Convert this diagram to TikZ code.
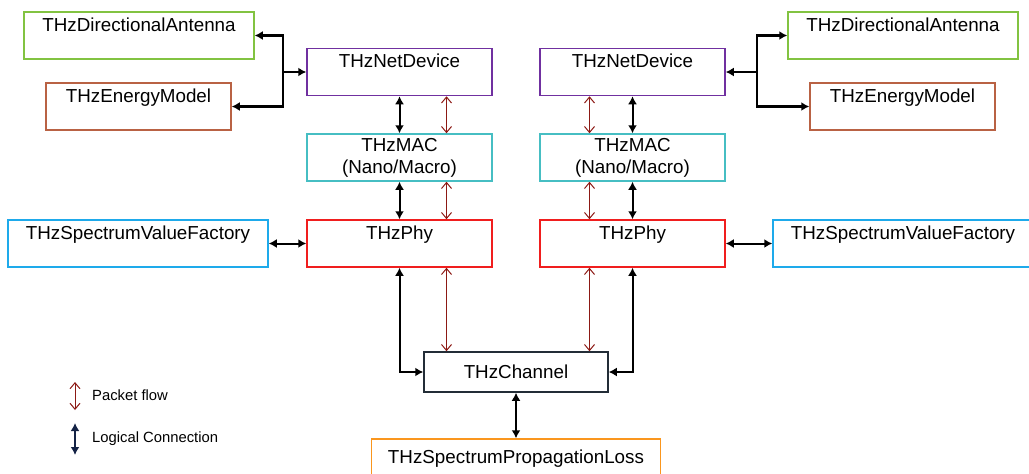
\documentclass[tikz,border=0pt]{standalone}
\usepackage{fontspec}
\setmainfont{Liberation Sans}
\usetikzlibrary{arrows.meta}
\definecolor{antgreen}{RGB}{130,195,65}
\definecolor{engbrown}{RGB}{185,98,68}
\definecolor{netpurple}{RGB}{112,48,160}
\definecolor{macteal}{RGB}{70,190,195}
\definecolor{phyred}{RGB}{240,30,30}
\definecolor{svfblue}{RGB}{30,170,235}
\definecolor{changrey}{RGB}{35,45,55}
\definecolor{lossorange}{RGB}{250,150,30}
\definecolor{pktred}{RGB}{140,25,20}
\definecolor{legnavy}{RGB}{20,35,70}

\begin{document}
\begin{tikzpicture}[x=1pt,y=-1pt]
        %
        % `block' is a box with its text at the top.
        % `twoline' is only used by the MAC boxes.
        % `flat' is used for the channel and the loss model.
        \tikzstyle{block} = [draw,line width=1.5pt,inner sep=0pt,minimum height=47pt,text height=19pt,text depth=28pt,font=\fontsize{18.8}{22}\selectfont]
        \tikzstyle{twoline} = [draw,line width=1.5pt,inner sep=0pt,minimum height=47pt,align=center,font=\fontsize{18.8}{22}\selectfont]
        \tikzstyle{flat} = [draw,line width=1.5pt,inner sep=0pt,minimum height=40pt,font=\fontsize{18.8}{22}\selectfont]
        \tikzstyle{logic} = [line width=2pt,arrows={Latex[length=8pt,width=9pt]-Latex[length=8pt,width=9pt]}]
        \tikzstyle{packet} = [pktred,line width=1pt,arrows={Straight Barb[length=6pt,width=10pt]-Straight Barb[length=6pt,width=10pt]}]
        \tikzstyle{branch} = [line width=2.6pt,arrows={-Latex[length=8pt,width=9pt]}]
        \tikzstyle{legend} = [anchor=west,inner sep=0pt,font=\fontsize{14.8}{17}\selectfont]
        %
        \useasboundingbox (0,0) rectangle (1029,474);
        \clip (0,0) rectangle (1029,474);
        %
        % Left device
        \node[block,draw=antgreen,minimum width=230pt] (ant1) at (139,35.5) {THzDirectionalAntenna};
        \node[block,draw=engbrown,minimum width=185pt] (eng1) at (138.5,106.5) {THzEnergyModel};
        \node[block,draw=netpurple,minimum width=185pt] (net1) at (399.5,72) {THzNetDevice};
        \node[twoline,draw=macteal,minimum width=185pt] (mac1) at (399.5,157.5) {THzMAC\\(Nano/Macro)};
        \node[block,draw=phyred,minimum width=185pt] (phy1) at (399.5,243.5) {THzPhy};
        \node[block,draw=svfblue,minimum width=260pt] (svf1) at (138,243.5) {THzSpectrumValueFactory};
        %
        % Right device
        \node[block,draw=antgreen,minimum width=230pt] (ant2) at (903,35.5) {THzDirectionalAntenna};
        \node[block,draw=engbrown,minimum width=185pt] (eng2) at (902.5,106.5) {THzEnergyModel};
        \node[block,draw=netpurple,minimum width=185pt] (net2) at (632.5,72) {THzNetDevice};
        \node[twoline,draw=macteal,minimum width=185pt] (mac2) at (632.5,157.5) {THzMAC\\(Nano/Macro)};
        \node[block,draw=phyred,minimum width=185pt] (phy2) at (632.5,243.5) {THzPhy};
        \node[block,draw=svfblue,minimum width=260pt] (svf2) at (903,243.5) {THzSpectrumValueFactory};
        %
        % Channel
        \node[flat,draw=changrey,minimum width=184pt] (chan) at (516,372) {THzChannel};
        \node[flat,draw=lossorange,minimum width=289pt] (loss) at (516,459) {THzSpectrumPropagationLoss};
        %
        % Left links
        \coordinate (j1) at (283,72);
        \draw[branch] (j1) |- (ant1);
        \draw[branch] (j1) |- (eng1);
        \draw[branch] (j1) -- (net1);
        \draw[logic] (net1) -- (mac1);
        \draw[logic] (mac1) -- (phy1);
        \draw[logic] (svf1) -- (phy1);
        \draw[packet] ([xshift=47pt]net1.south) -- ([xshift=47pt]mac1.north);
        \draw[packet] ([xshift=47pt]mac1.south) -- ([xshift=47pt]phy1.north);
        %
        % Right links
        \coordinate (j2) at (757,72);
        \draw[branch] (j2) |- (ant2);
        \draw[branch] (j2) |- (eng2);
        \draw[branch] (j2) -- (net2);
        \draw[logic] (net2) -- (mac2);
        \draw[logic] (mac2) -- (phy2);
        \draw[logic] (phy2) -- (svf2);
        \draw[packet] ([xshift=-43pt]net2.south) -- ([xshift=-43pt]mac2.north);
        \draw[packet] ([xshift=-43pt]mac2.south) -- ([xshift=-43pt]phy2.north);
        %
        % Down to the channel
        \coordinate (p1) at ([xshift=47pt]phy1.south);
        \coordinate (p2) at ([xshift=-43pt]phy2.south);
        \draw[logic] (phy1.south) |- (chan.west);
        \draw[logic] (phy2.south) |- (chan.east);
        \draw[packet] (p1) -- (p1 |- chan.north);
        \draw[packet] (p2) -- (p2 |- chan.north);
        \draw[logic] (chan) -- (loss);
        %
        % Legend
        \coordinate (pf1) at (75,382);
        \coordinate (pf2) at (75,410);
        \coordinate (lc1) at (75,423);
        \coordinate (lc2) at (75,455);
        \draw[packet] (pf1) -- (pf2);
        \draw[logic,legnavy] (lc1) -- (lc2);
        \node[legend] (pktlbl) at (92,395) {Packet flow};
        \node[legend] (lclbl) at (92,439) {Logical Connection};
        %
\end{tikzpicture}
\end{document}
